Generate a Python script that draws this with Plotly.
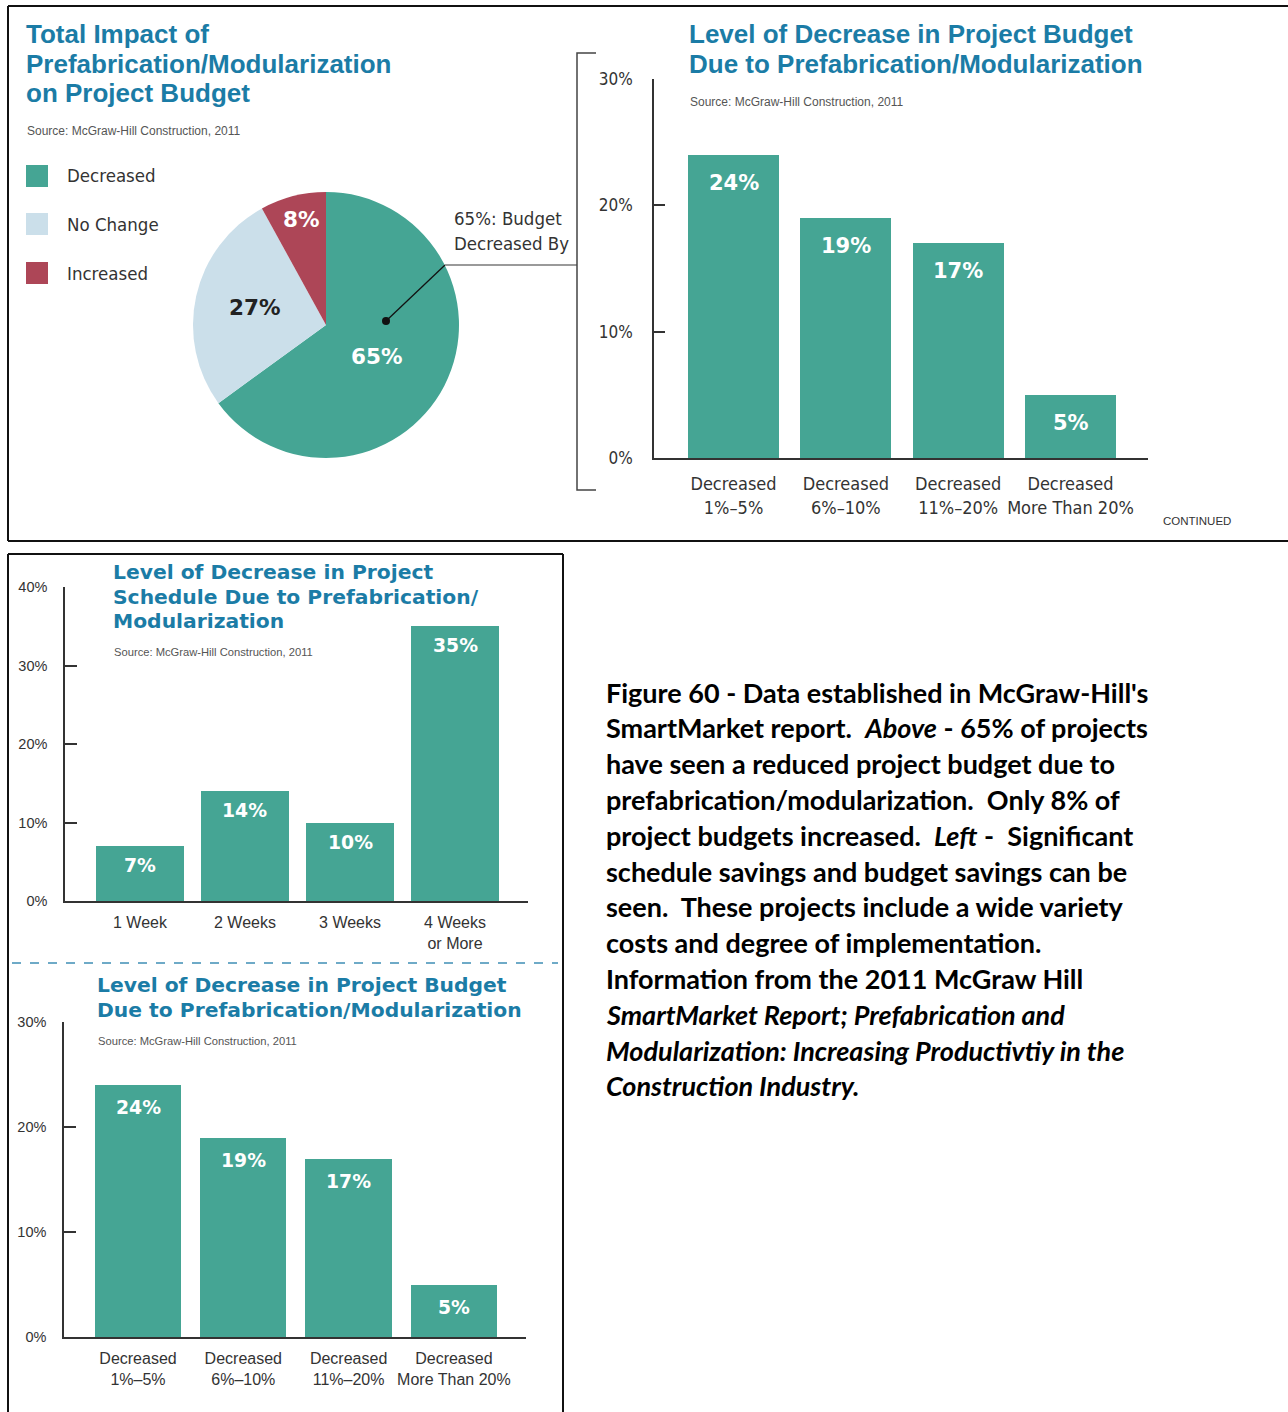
import plotly.graph_objects as go

W, H = 1288, 1412

# ---- data -------------------------------------------------------------
impact_labels = ["Decreased", "No Change", "Increased"]
impact_values = [65, 27, 8]

budget_categories = ["Decreased<br>1%–5%", "Decreased<br>6%–10%",
                     "Decreased<br>11%–20%", "Decreased<br>More Than 20%"]
budget_values = [24, 19, 17, 5]
budget_ticks = [0, 10, 20, 30]

schedule_categories = ["1 Week", "2 Weeks", "3 Weeks", "4 Weeks<br>or More"]
schedule_values = [7, 14, 10, 35]
schedule_ticks = [0, 10, 20, 30, 40]

source_text = "Source: McGraw-Hill Construction, 2011"

# ---- styling ----------------------------------------------------------
TEAL = "#45a594"
LIGHT = "#cbdfea"
RED = "#ad4657"
TITLE_BLUE = "#1b7ca6"
INK = "#333333"
NARROW = ("Liberation Sans Narrow, DejaVu Sans Condensed, Roboto Condensed, "
          "Arial Narrow, Liberation Sans, sans-serif")
SANS = "Liberation Sans, Arial, sans-serif"
WIDE = "DejaVu Sans, Verdana, sans-serif"
CAPTION = "Lato, Carlito, Calibri, sans-serif"
slice_colors = [TEAL, LIGHT, RED]


def px(x):
    return x / W


def py(y):
    return 1 - y / H


fig = go.Figure()

# ---- pie: total impact on budget --------------------------------------
fig.add_trace(go.Pie(
    labels=impact_labels, values=impact_values, sort=False,
    direction="clockwise", rotation=0, textinfo="none",
    marker=dict(colors=slice_colors, line=dict(width=0)),
    domain=dict(x=[px(193), px(459)], y=[py(458), py(192)]),
    showlegend=False, hoverinfo="label+percent",
))

# ---- bars ---------------------------------------------------------------
fig.add_trace(go.Bar(x=list(range(len(budget_values))), y=budget_values,
                     marker=dict(color=TEAL, line=dict(width=0)), width=0.81,
                     xaxis="x", yaxis="y", showlegend=False))
fig.add_trace(go.Bar(x=list(range(len(schedule_values))), y=schedule_values,
                     marker=dict(color=TEAL, line=dict(width=0)), width=0.83,
                     xaxis="x2", yaxis="y2", showlegend=False))
fig.add_trace(go.Bar(x=list(range(len(budget_values))), y=budget_values,
                     marker=dict(color=TEAL, line=dict(width=0)), width=0.82,
                     xaxis="x3", yaxis="y3", showlegend=False))


def xaxis_style(dom, rng, cats, font, standoff, anchor):
    return dict(domain=[px(dom[0]), px(dom[1])], range=rng, anchor=anchor,
                tickvals=list(range(len(cats))), ticktext=cats, tickangle=0,
                showline=True, linecolor=INK, linewidth=1.5, ticks="",
                showgrid=False, zeroline=False, tickfont=font,
                ticklabelstandoff=standoff, automargin=False, fixedrange=True)


def yaxis_style(dom, rng, ticks, font, ticklen, standoff, anchor):
    return dict(domain=[py(dom[1]), py(dom[0])], range=rng, anchor=anchor,
                tickvals=ticks, ticktext=[f"{t}%" for t in ticks],
                showline=True, linecolor=INK, linewidth=1.5,
                ticks="inside", ticklen=ticklen, tickcolor=INK, tickwidth=1.5,
                showgrid=False, zeroline=False, tickfont=font,
                ticklabelstandoff=standoff, automargin=False, fixedrange=True)


top_x_font = dict(family=NARROW, size=18, color=INK)
top_y_font = dict(family=NARROW, size=17, color=INK)
low_x_font = dict(family=SANS, size=16, color=INK)
low_y_font = dict(family=SANS, size=14.5, color=INK)

fig.update_layout(
    xaxis=xaxis_style((654, 1148), [-0.708, 3.69], budget_categories, top_x_font, 9, "y"),
    yaxis=yaxis_style((79, 458), [0, 30], budget_ticks, top_y_font, 11, 16, "x"),
    xaxis2=xaxis_style((65, 528), [-0.714, 3.695], schedule_categories, low_x_font, 6, "y2"),
    yaxis2=yaxis_style((587, 901), [0, 40], schedule_ticks, low_y_font, 12, 13, "x2"),
    xaxis3=xaxis_style((64, 526), [-0.703, 3.685], budget_categories, low_x_font, 6, "y3"),
    yaxis3=yaxis_style((1022, 1337), [0, 30], budget_ticks, low_y_font, 12, 13, "x3"),
)

ann = []


def text(x, y, s, size, color=INK, family=SANS, anchor="left", bold=False):
    ann.append(dict(x=px(x), y=py(y), xref="paper", yref="paper", text=s,
                    showarrow=False, xanchor=anchor, yanchor="middle",
                    font=dict(family=family, size=size, color=color,
                              weight="bold" if bold else "normal")))


# titles
for i, line in enumerate(["Total Impact of", "Prefabrication/Modularization",
                          "on Project Budget"]):
    text(24, 34 + i * 29.5, line, 26, TITLE_BLUE, SANS, bold=True)
text(25, 131, source_text, 12, "#555555", SANS)

for i, line in enumerate(["Level of Decrease in Project Budget",
                          "Due to Prefabrication/Modularization"]):
    text(687, 34 + i * 29.5, line, 26, TITLE_BLUE, SANS, bold=True)
text(688, 102, source_text, 12, "#555555", SANS)

for i, line in enumerate(["Level of Decrease in Project",
                          "Schedule Due to Prefabrication/",
                          "Modularization"]):
    text(111, 572 + i * 24.5, line, 20.3, TITLE_BLUE, WIDE, bold=True)
text(112, 652, source_text, 11.2, "#555555", SANS)

for i, line in enumerate(["Level of Decrease in Project Budget",
                          "Due to Prefabrication/Modularization"]):
    text(95, 985 + i * 25, line, 20.3, TITLE_BLUE, WIDE, bold=True)
text(96, 1041, source_text, 11.2, "#555555", SANS)

text(1197, 521, "CONTINUED", 11.5, INK, SANS, anchor="center")

# legend for the pie
legend_y = [176, 224, 273]
for lab, col, yc in zip(impact_labels, slice_colors, legend_y):
    fig.add_shape(type="rect", xref="paper", yref="paper",
                  x0=px(26), x1=px(48), y0=py(yc + 11), y1=py(yc - 11),
                  fillcolor=col, line=dict(width=0))
    text(65, yc, lab, 18.5, INK, NARROW)

# pie slice labels
pie_label_pos = [(376, 357, "white"), (254, 308, "#222222"), (301, 220, "white")]
for v, (lx, ly, c) in zip(impact_values, pie_label_pos):
    text(lx, ly, f"{v}%", 21.5, c, WIDE, anchor="center", bold=True)

# callout from the decreased slice to the breakdown chart
text(452, 218, f"{impact_values[0]}%: Budget", 18.5, INK, NARROW)
text(452, 243, "Decreased By", 18.5, INK, NARROW)
fig.add_shape(type="line", xref="paper", yref="paper",
              x0=px(386), y0=py(321), x1=px(445), y1=py(265),
              line=dict(color="#111111", width=1.3))
fig.add_shape(type="line", xref="paper", yref="paper",
              x0=px(445), y0=py(265), x1=px(577), y1=py(265),
              line=dict(color="#9a9a9a", width=2))
fig.add_shape(type="circle", xref="paper", yref="paper",
              x0=px(382), x1=px(390), y0=py(325), y1=py(317),
              fillcolor="#111111", line=dict(width=0))
fig.add_shape(type="path", xref="paper", yref="paper",
              path=f"M {px(596)} {py(53)} L {px(577)} {py(53)} "
                   f"L {px(577)} {py(490)} L {px(596)} {py(490)}",
              line=dict(color="#444444", width=1.5))


# value labels inside the bars
def bar_labels(values, xa, ya, size, shift):
    for i, v in enumerate(values):
        ann.append(dict(x=i, y=v, xref=xa, yref=ya, text=f"{v}%",
                        showarrow=False, xanchor="center", yanchor="top",
                        yshift=-shift,
                        font=dict(family=WIDE, size=size, color="white",
                                  weight="bold")))


bar_labels(budget_values, "x", "y", 21, 14)
bar_labels(schedule_values, "x2", "y2", 18.8, 7)
bar_labels(budget_values, "x3", "y3", 18.8, 10)

# frames and divider
frame = dict(color="#111111", width=2)
for x0, y0, x1, y1 in [(8, 6, 1288, 6), (8, 6, 8, 541), (8, 541, 1288, 541),
                       (8, 554, 563, 554), (8, 554, 8, 1412), (563, 554, 563, 1412)]:
    fig.add_shape(type="line", xref="paper", yref="paper",
                  x0=px(x0), y0=py(y0), x1=px(x1), y1=py(y1), line=frame)
fig.add_shape(type="line", xref="paper", yref="paper",
              x0=px(12), y0=py(963), x1=px(558), y1=py(963),
              line=dict(color="#3f8fb5", width=1.5, dash="dash"))

# caption
NB = "\u00a0"
caption_lines = [
    "Figure 60 - Data established in McGraw-Hill's",
    f"SmartMarket report.{NB} <i>Above</i> - {impact_values[0]}% of projects",
    "have seen a reduced project budget due to",
    f"prefabrication/modularization.{NB} Only {impact_values[2]}% of",
    f"project budgets increased.{NB} <i>Left</i> -{NB} Significant",
    "schedule savings and budget savings can be",
    f"seen.{NB} These projects include a wide variety",
    "costs and degree of implementation.",
    "Information from the 2011 McGraw Hill",
    "<i>SmartMarket Report; Prefabrication and</i>",
    "<i>Modularization: Increasing Productivtiy in the</i>",
    "<i>Construction Industry.</i>",
]
for i, line in enumerate(caption_lines):
    text(604, 692 + i * 35.8, line, 27, "#000000", CAPTION, bold=True)

fig.update_layout(
    width=W, height=H, margin=dict(l=0, r=0, t=0, b=0, autoexpand=False),
    paper_bgcolor="white", plot_bgcolor="rgba(0,0,0,0)",
    annotations=ann, bargap=0, showlegend=False,
)

fig.write_html("out.html")
